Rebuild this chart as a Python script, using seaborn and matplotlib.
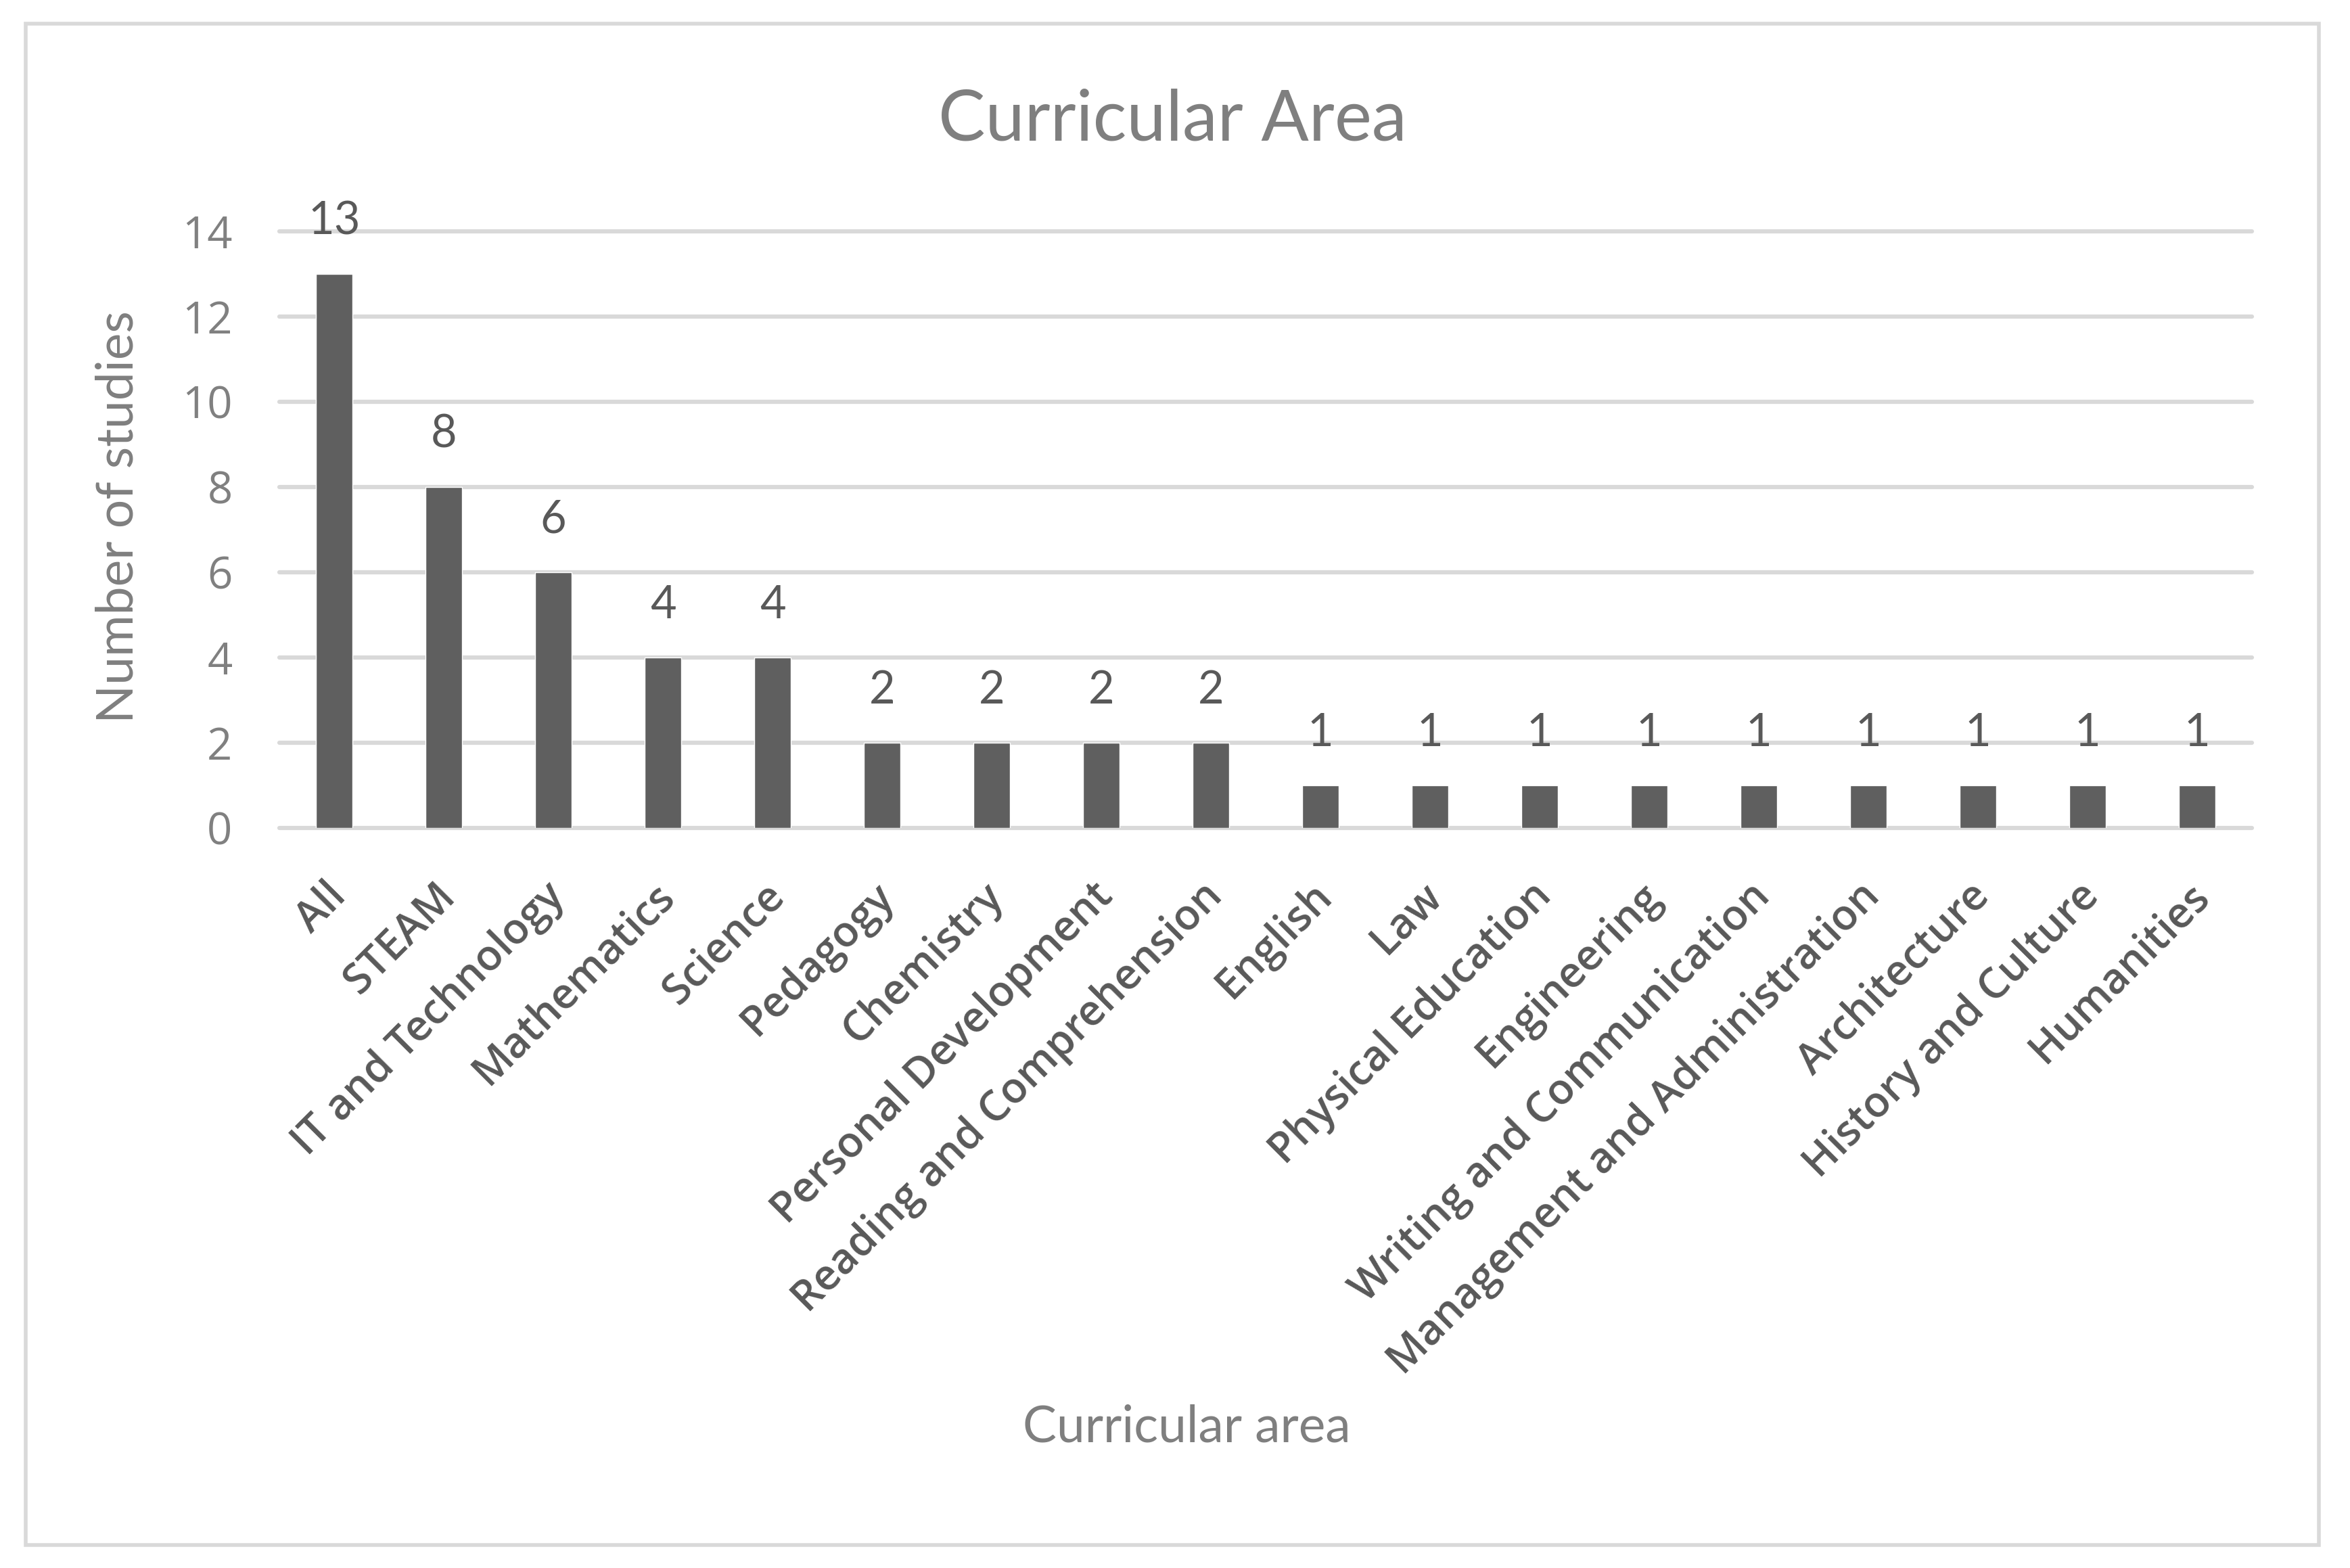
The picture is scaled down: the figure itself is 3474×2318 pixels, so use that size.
import pandas as pd
import matplotlib.pyplot as plt
import matplotlib.transforms as mtransforms
from matplotlib.patches import Rectangle
import seaborn as sns

# data
categories = ["All", "STEAM", "IT and Technology", "Mathematics", "Science",
              "Pedagogy", "Chemistry", "Personal Development",
              "Reading and Comprehension", "English", "Law",
              "Physical Education", "Engineering", "Writing and Communication",
              "Management and Administration", "Architecture",
              "History and Culture", "Humanities"]
counts = [13, 8, 6, 4, 4, 2, 2, 2, 2, 1, 1, 1, 1, 1, 1, 1, 1, 1]
y_ticks = [0, 2, 4, 6, 8, 10, 12, 14]

bar_color = '#5F5F5F'
dark_text = '#595959'
light_text = '#7F7F7F'
grid_color = '#D9D9D9'

sns.set_theme(style='white')
plt.rcParams['font.family'] = ['Lato', 'DejaVu Sans']

df = pd.DataFrame({'area': categories, 'studies': counts})

fig = plt.figure(figsize=(34.74, 23.18), dpi=100)
ax = fig.add_axes([0.1189, 0.4720, 0.8394, 0.3805])

sns.barplot(data=df, x='area', y='studies', color=bar_color, saturation=1,
            width=0.33, ax=ax, zorder=3)

ax.set_xlim(-0.5, len(categories) - 0.5)
ax.set_ylim(0, 14)
ax.set_yticks(y_ticks)
ax.grid(axis='y', color=grid_color, lw=4.5)
ax.set_axisbelow(True)
sns.despine(ax=ax, left=True, bottom=True)
for tick in ax.yaxis.get_major_ticks():
    tick.gridline.set_clip_on(False)

ax.tick_params(length=0, labelfontfamily='Open Sans')
ax.tick_params(axis='y', pad=50, labelsize=47, labelcolor='#808080')
ax.tick_params(axis='x', pad=50, labelsize=45, labelcolor=dark_text)

offset = mtransforms.ScaledTranslation(0.30, 0, fig.dpi_scale_trans)
for lbl in ax.get_xticklabels():
    lbl.set_rotation(45)
    lbl.set_ha('right')
    lbl.set_va('top')
    lbl.set_fontweight('semibold')
    lbl.set_transform(lbl.get_transform() + offset)

# value labels above the bars
texts = ax.bar_label(ax.containers[0], padding=42, fontsize=48, color=dark_text)
for t in texts:
    t.set_va('baseline')

ax.set_xlabel('Curricular area', fontsize=54, color=light_text)
ax.xaxis.set_label_coords(0.460, -1.0295)
ax.xaxis.label.set_va('baseline')

ax.set_ylabel('Number of studies', fontsize=54, color=light_text)
ax.yaxis.set_label_coords(-0.0816, 0.5215)
ax.yaxis.label.set_va('center')

fig.suptitle('Curricular Area', x=0.4989, y=1 - 207 / 2318, va='baseline',
             fontsize=75, color=light_text)

# chart border like an Excel chart area
fig.add_artist(Rectangle((0.0109, 0.0147), 0.9758, 0.9703,
                         transform=fig.transFigure, fill=False,
                         edgecolor=grid_color, lw=4))

fig.savefig('out.png', dpi=100, facecolor='white')
